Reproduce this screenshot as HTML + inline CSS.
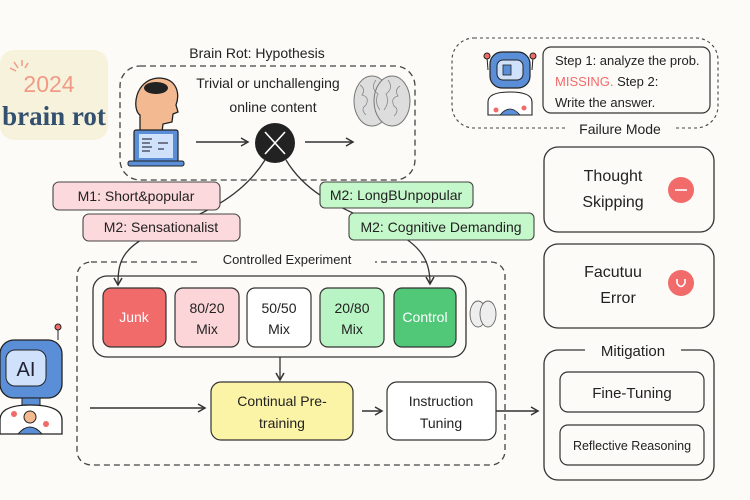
<!DOCTYPE html>
<html><head><meta charset="utf-8"><style>
html,body{margin:0;padding:0;background:#fcfbf7;}
svg{display:block;font-family:"Liberation Sans",sans-serif;}
</style></head><body>
<svg width="750" height="500" viewBox="0 0 750 500" xmlns="http://www.w3.org/2000/svg">
<defs>
<marker id="a" markerWidth="10" markerHeight="10" refX="8" refY="5" orient="auto" markerUnits="userSpaceOnUse">
<path d="M1,1 L8,5 L1,9" fill="none" stroke="#333" stroke-width="1.5"/></marker>
</defs>
<rect width="750" height="500" fill="#fcfbf7"/>
<!-- 2024 brain rot -->
<rect x="0" y="50" width="108" height="90" rx="14" fill="#f6f2dc"/>
<g stroke="#f19a86" stroke-width="1.5"><line x1="14" y1="62" x2="18" y2="68"/><line x1="22" y1="60" x2="22" y2="66"/><line x1="10" y1="68" x2="16" y2="71"/><line x1="28" y1="63" x2="25" y2="68"/></g>
<text x="49" y="92" font-size="23" fill="#f19a86" text-anchor="middle">2024</text>
<text x="54" y="125" font-size="27" font-weight="bold" fill="#33506e" text-anchor="middle" font-family="Liberation Serif,serif">brain rot</text>
<!-- hypothesis -->
<text x="257" y="58" font-size="14" fill="#222" text-anchor="middle">Brain Rot: Hypothesis</text>
<rect x="120" y="66" width="295" height="114" rx="20" fill="none" stroke="#444" stroke-width="1.3" stroke-dasharray="6,4"/>
<path d="M140,132 L140,115 C132,110 134,80 158,78 C178,78 180,95 176,105 L178,112 L173,114 L172,122 L163,124 L162,132 Z" fill="#f3b990" stroke="#222" stroke-width="1.3"/>
<ellipse cx="156" cy="88" rx="12" ry="6" fill="#222"/>
<rect x="134" y="130" width="44" height="32" rx="2" fill="#5a8fd8" stroke="#222" stroke-width="1.2"/>
<rect x="139" y="134" width="34" height="24" fill="#cfe1fb"/>
<g stroke="#334" stroke-width="1.2"><line x1="142" y1="139" x2="152" y2="139"/><line x1="142" y1="143" x2="150" y2="143"/><line x1="142" y1="147" x2="152" y2="147"/><line x1="142" y1="151" x2="150" y2="151"/><line x1="158" y1="143" x2="168" y2="143"/><line x1="158" y1="149" x2="164" y2="149"/></g>
<rect x="128" y="161" width="56" height="5" rx="2" fill="#5a8fd8" stroke="#222"/>
<text x="268" y="88" font-size="14" fill="#222" text-anchor="middle">Trivial or unchallenging</text>
<text x="273" y="112" font-size="14" fill="#222" text-anchor="middle">online content</text>
<line x1="196" y1="142" x2="248" y2="142" stroke="#333" stroke-width="1.5" marker-end="url(#a)"/>
<circle cx="275" cy="143" r="20" fill="#222"/>
<g stroke="#fff" stroke-width="1.6"><line x1="265" y1="132" x2="285" y2="154"/><line x1="285" y1="132" x2="265" y2="154"/></g>
<line x1="305" y1="142" x2="353" y2="142" stroke="#333" stroke-width="1.5" marker-end="url(#a)"/>
<g fill="#ddd" stroke="#777" stroke-width="1">
<ellipse cx="372" cy="101" rx="18" ry="25"/><ellipse cx="392" cy="101" rx="18" ry="25"/></g>
<g fill="none" stroke="#888" stroke-width="0.8"><path d="M360,85 q6,4 2,10 q8,2 4,10 q-6,4 0,10 M376,80 q-6,8 2,14 q-4,8 2,16 M388,80 q6,8 -2,14 q4,8 -2,16 M400,86 q-6,4 -2,10 q-8,2 -4,10 q6,4 0,10"/></g>
<!-- controlled experiment -->
<rect x="77" y="262" width="428" height="203" rx="14" fill="none" stroke="#444" stroke-width="1.3" stroke-dasharray="6,4"/>
<rect x="200" y="250" width="175" height="16" fill="#fcfbf7"/>
<text x="287" y="264" font-size="13" fill="#222" text-anchor="middle">Controlled Experiment</text>
<rect x="93" y="276" width="373" height="81" rx="14" fill="#fcfbf7" stroke="#333" stroke-width="1.3"/>
<rect x="103" y="288" width="63" height="59" rx="8" fill="#f26b6b" stroke="#333" stroke-width="1.2"/>
<text x="134" y="322" font-size="14" fill="#fff" text-anchor="middle">Junk</text>
<rect x="175" y="288" width="64" height="59" rx="8" fill="#fcd5d9" stroke="#333" stroke-width="1.2"/>
<text x="207" y="313" font-size="14" fill="#222" text-anchor="middle">80/20</text><text x="207" y="334" font-size="14" fill="#222" text-anchor="middle">Mix</text>
<rect x="247" y="288" width="64" height="59" rx="8" fill="#fff" stroke="#333" stroke-width="1.2"/>
<text x="279" y="313" font-size="14" fill="#222" text-anchor="middle">50/50</text><text x="279" y="334" font-size="14" fill="#222" text-anchor="middle">Mix</text>
<rect x="320" y="288" width="64" height="59" rx="8" fill="#b9f5c4" stroke="#333" stroke-width="1.2"/>
<text x="352" y="313" font-size="14" fill="#222" text-anchor="middle">20/80</text><text x="352" y="334" font-size="14" fill="#222" text-anchor="middle">Mix</text>
<rect x="394" y="288" width="62" height="59" rx="8" fill="#50c878" stroke="#333" stroke-width="1.2"/>
<text x="425" y="322" font-size="14" fill="#fff" text-anchor="middle">Control</text>
<g fill="#eee" stroke="#666" stroke-width="0.9"><ellipse cx="478" cy="314" rx="8" ry="13"/><ellipse cx="488" cy="314" rx="8" ry="13"/></g>
<!-- curves -->
<path d="M265,160 C240,200 200,215 150,235 C120,250 118,265 118,285" fill="none" stroke="#333" stroke-width="1.3" marker-end="url(#a)"/>
<path d="M286,160 C310,200 350,210 400,235 C425,250 430,265 430,284" fill="none" stroke="#333" stroke-width="1.3" marker-end="url(#a)"/>
<!-- labels -->
<rect x="53" y="182" width="167" height="28" rx="6" fill="#fcd9dd" stroke="#444" stroke-width="1.1"/>
<text x="136" y="201" font-size="14" fill="#222" text-anchor="middle">M1: Short&amp;popular</text>
<rect x="83" y="214" width="157" height="27" rx="6" fill="#fcd9dd" stroke="#444" stroke-width="1.1"/>
<text x="161" y="232" font-size="14" fill="#222" text-anchor="middle">M2: Sensationalist</text>
<rect x="320" y="182" width="153" height="26" rx="5" fill="#c4f7c9" stroke="#444" stroke-width="1.1"/>
<text x="396" y="200" font-size="14" fill="#222" text-anchor="middle">M2: LongBUnpopular</text>
<rect x="349" y="213" width="185" height="27" rx="5" fill="#c4f7c9" stroke="#444" stroke-width="1.1"/>
<text x="441" y="232" font-size="14" fill="#222" text-anchor="middle">M2: Cognitive Demanding</text>
<line x1="280" y1="357" x2="280" y2="380" stroke="#333" stroke-width="1.3" marker-end="url(#a)"/>
<rect x="211" y="382" width="142" height="58" rx="10" fill="#fbf3a5" stroke="#333" stroke-width="1.2"/>
<text x="282" y="406" font-size="14" fill="#222" text-anchor="middle">Continual Pre-</text>
<text x="282" y="428" font-size="14" fill="#222" text-anchor="middle">training</text>
<rect x="387" y="382" width="109" height="58" rx="10" fill="#fff" stroke="#333" stroke-width="1.2"/>
<text x="441" y="406" font-size="14" fill="#222" text-anchor="middle">Instruction</text>
<text x="441" y="428" font-size="14" fill="#222" text-anchor="middle">Tuning</text>
<line x1="90" y1="408" x2="205" y2="408" stroke="#333" stroke-width="1.4" marker-end="url(#a)"/>
<line x1="362" y1="411" x2="382" y2="411" stroke="#333" stroke-width="1.4" marker-end="url(#a)"/>
<line x1="496" y1="411" x2="538" y2="411" stroke="#333" stroke-width="1.4" marker-end="url(#a)"/>
<!-- AI robot left -->
<rect x="0" y="340" width="62" height="58" rx="14" fill="#5a8fd8" stroke="#222" stroke-width="1.3"/>
<rect x="6" y="350" width="40" height="36" rx="9" fill="#cfe1fb" stroke="#222"/>
<text x="26" y="376" font-size="20" fill="#223" text-anchor="middle">AI</text>
<line x1="58" y1="340" x2="58" y2="328" stroke="#222"/><circle cx="58" cy="327" r="3" fill="#f26b6b" stroke="#222"/>
<rect x="22" y="398" width="18" height="8" fill="#5a8fd8" stroke="#222"/>
<path d="M0,434 L0,420 Q0,405 30,405 Q62,405 62,420 L62,434 Z" fill="#fff" stroke="#222" stroke-width="1.3"/>
<circle cx="30" cy="417" r="6" fill="#f3b990" stroke="#222"/>
<path d="M18,434 Q30,420 42,434 Z" fill="#5a8fd8" stroke="#222"/>
<circle cx="14" cy="414" r="3" fill="#f26b6b"/><circle cx="46" cy="424" r="3" fill="#f26b6b"/>
<!-- failure top box -->
<rect x="452" y="38" width="266" height="90" rx="22" fill="none" stroke="#444" stroke-width="1.1" stroke-dasharray="3,3"/>
<rect x="490" y="52" width="40" height="36" rx="12" fill="#5a8fd8" stroke="#222" stroke-width="1.2"/>
<rect x="497" y="60" width="26" height="20" rx="6" fill="#cfe1fb" stroke="#222"/>
<rect x="503" y="65" width="8" height="10" fill="#5a8fd8" stroke="#222" stroke-width="0.8"/>
<line x1="488" y1="70" x2="487" y2="57" stroke="#222"/><circle cx="487" cy="56" r="3" fill="#f26b6b" stroke="#222"/>
<line x1="532" y1="70" x2="533" y2="57" stroke="#222"/><circle cx="533" cy="56" r="3" fill="#f26b6b" stroke="#222"/>
<path d="M488,115 L488,102 Q488,92 510,92 Q532,92 532,102 L532,115 Z" fill="#fff" stroke="#222" stroke-width="1.1"/>
<path d="M500,115 Q510,103 520,115 Z" fill="#5a8fd8" stroke="#222" stroke-width="0.8"/>
<circle cx="496" cy="110" r="2.5" fill="#f26b6b"/><circle cx="524" cy="108" r="2.5" fill="#f26b6b"/>
<rect x="543" y="47" width="167" height="66" rx="8" fill="#fcfbf7" stroke="#333" stroke-width="1.2"/>
<text x="555" y="65" font-size="13" fill="#222">Step 1: analyze the prob.</text>
<text x="555" y="86" font-size="13" fill="#222"><tspan fill="#f26b6b">MISSING.</tspan> Step 2:</text>
<text x="555" y="107" font-size="13" fill="#222">Write the answer.</text>
<rect x="565" y="120" width="110" height="16" fill="#fcfbf7"/>
<text x="620" y="134" font-size="14" fill="#222" text-anchor="middle">Failure Mode</text>
<rect x="544" y="147" width="170" height="85" rx="14" fill="none" stroke="#333" stroke-width="1.3"/>
<text x="613" y="181" font-size="16" fill="#222" text-anchor="middle">Thought</text>
<text x="613" y="207" font-size="16" fill="#222" text-anchor="middle">Skipping</text>
<circle cx="681" cy="190" r="13" fill="#f26b6b"/><line x1="675" y1="190" x2="687" y2="190" stroke="#fff" stroke-width="1.6"/>
<rect x="544" y="244" width="170" height="84" rx="14" fill="none" stroke="#333" stroke-width="1.3"/>
<text x="613" y="277" font-size="16" fill="#222" text-anchor="middle">Facutuu</text>
<text x="618" y="303" font-size="16" fill="#222" text-anchor="middle">Error</text>
<circle cx="681" cy="283" r="13" fill="#f26b6b"/><path d="M677,279 L677,283 Q681,290 685,283 L685,279" fill="none" stroke="#fff" stroke-width="1.6"/>
<rect x="544" y="350" width="170" height="130" rx="14" fill="none" stroke="#333" stroke-width="1.3"/>
<rect x="585" y="340" width="96" height="18" fill="#fcfbf7"/>
<text x="633" y="356" font-size="15" fill="#222" text-anchor="middle">Mitigation</text>
<rect x="560" y="372" width="144" height="40" rx="8" fill="none" stroke="#333" stroke-width="1.2"/>
<text x="632" y="398" font-size="15" fill="#222" text-anchor="middle">Fine-Tuning</text>
<rect x="560" y="425" width="144" height="40" rx="8" fill="none" stroke="#333" stroke-width="1.2"/>
<text x="632" y="450" font-size="12.5" fill="#222" text-anchor="middle">Reflective Reasoning</text>
</svg>
</body></html>
